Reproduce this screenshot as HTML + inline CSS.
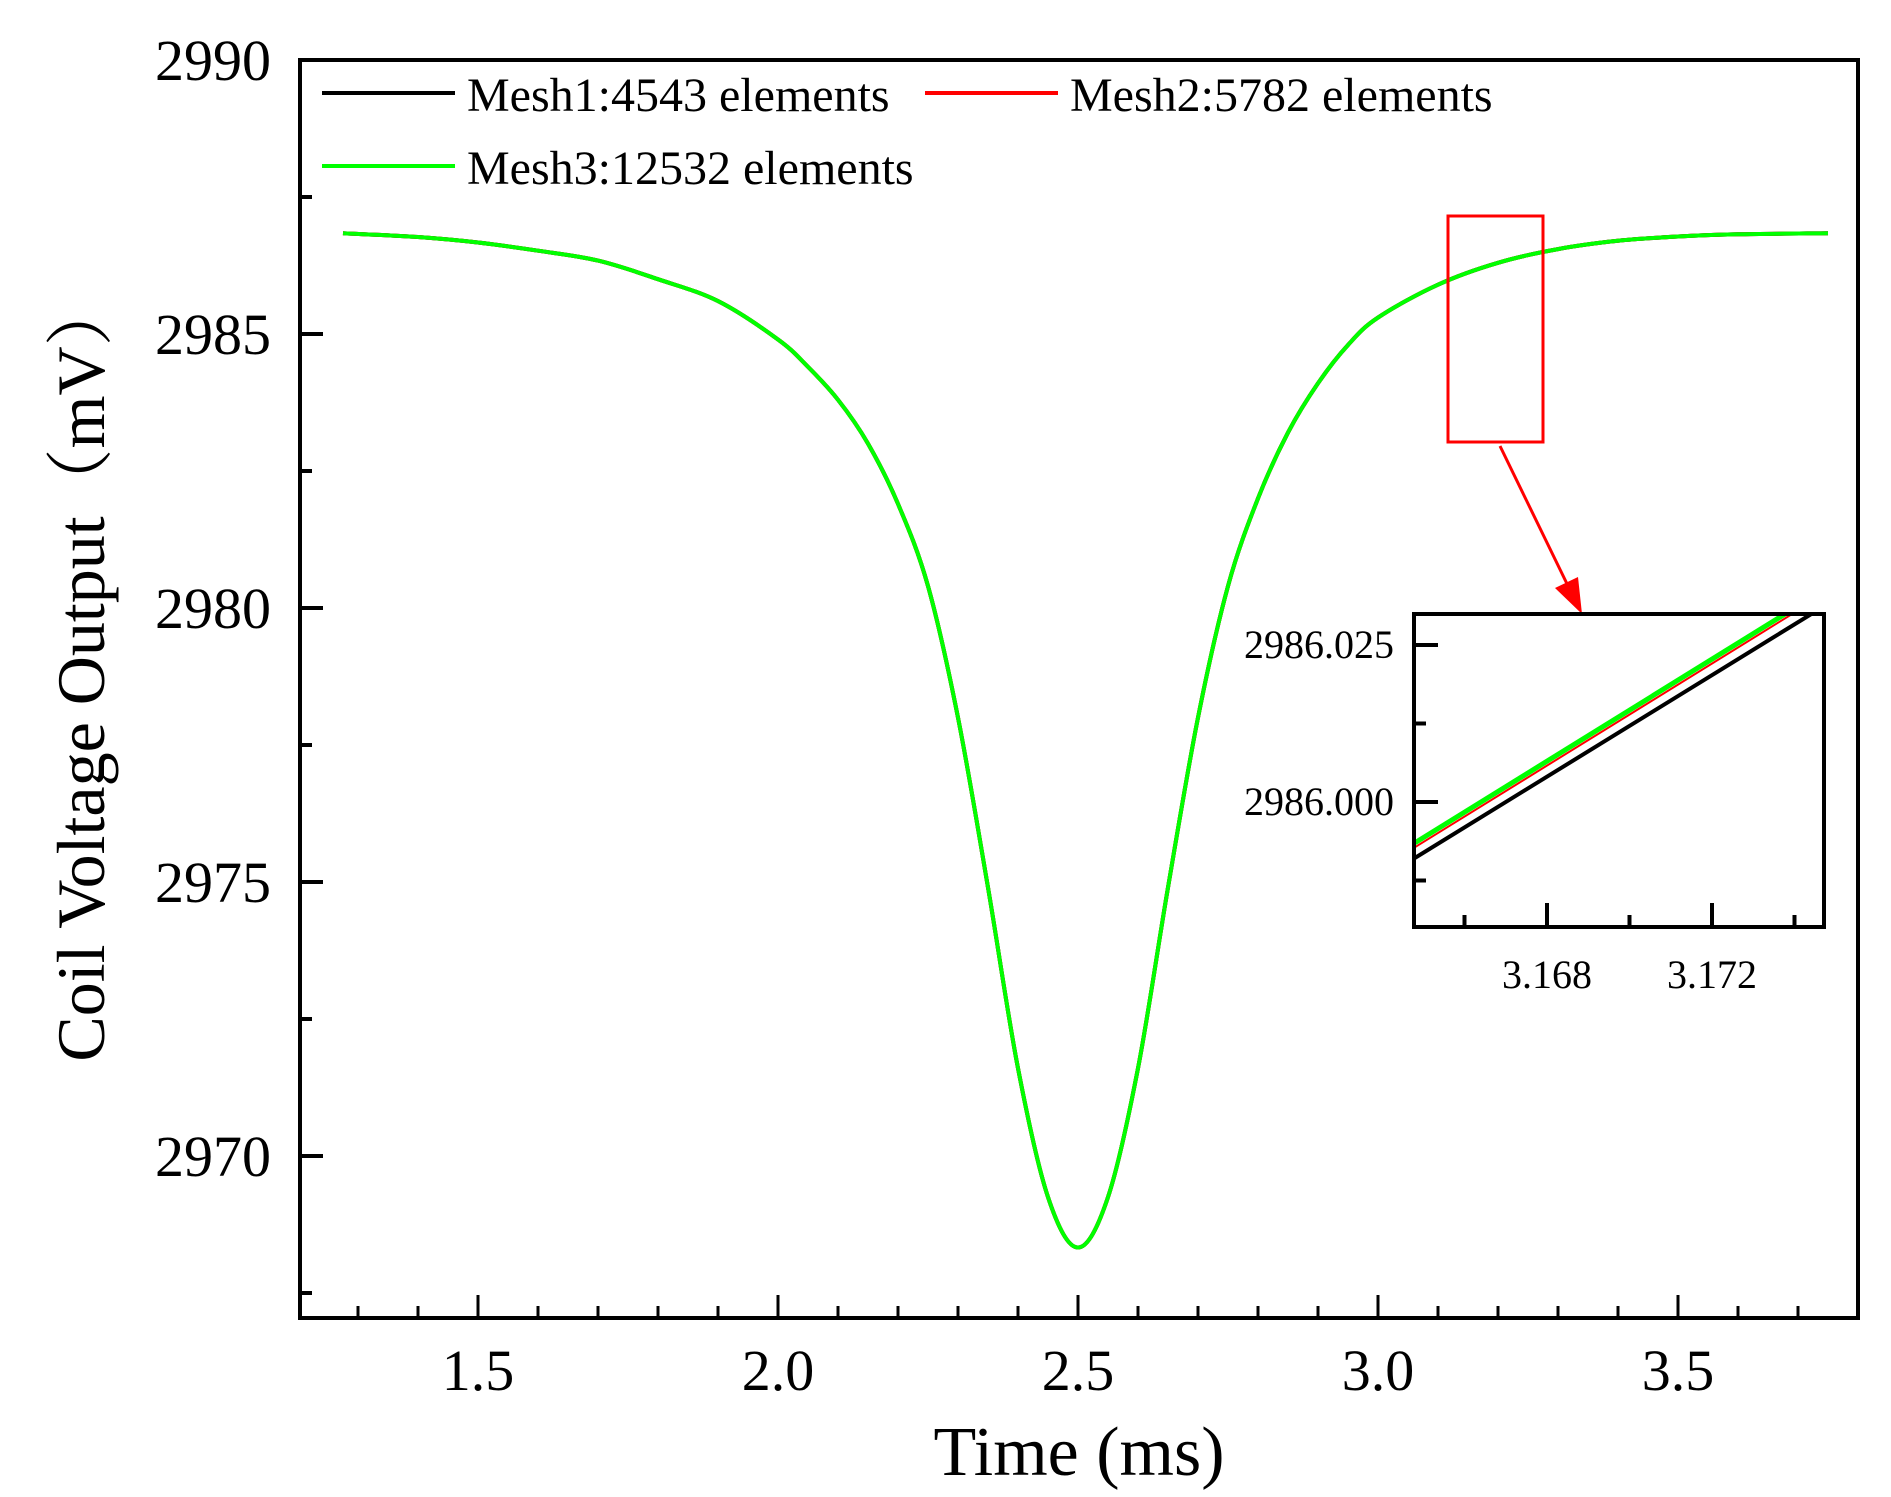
<!DOCTYPE html>
<html><head><meta charset="utf-8"><style>
html,body{margin:0;padding:0;background:#fff;}
svg{display:block;font-family:"Liberation Serif","Noto Serif CJK SC",serif;}
</style></head><body>
<svg id="chart" width="1891" height="1497" viewBox="0 0 1891 1497" xmlns="http://www.w3.org/2000/svg">
<g id="main"></g>
<g id="inset"></g>
</svg>
<script>
const times = [1.275,1.4,1.5,1.6,1.7,1.8,1.9,2.0,2.05,2.1,2.15,2.2,2.25,2.3,2.35,2.4,2.45,2.5,2.55,2.6,2.65,2.7,2.75,2.8,2.85,2.9,2.95,3.0,3.1,3.2,3.3,3.4,3.5,3.6,3.75];
const mesh1 = [2986.84,2986.77,2986.67,2986.52,2986.34,2986.0,2985.6,2984.9,2984.4,2983.8,2983.0,2981.9,2980.4,2978.0,2974.9,2971.6,2969.25,2968.33,2969.25,2971.6,2974.9,2978.0,2980.4,2982.0,2983.2,2984.1,2984.8,2985.3,2985.9,2986.3,2986.55,2986.7,2986.78,2986.82,2986.84];
const mesh2 = [2986.84,2986.77,2986.67,2986.52,2986.34,2986.0,2985.6,2984.9,2984.4,2983.8,2983.0,2981.9,2980.4,2978.0,2974.9,2971.6,2969.25,2968.33,2969.25,2971.6,2974.9,2978.0,2980.4,2982.0,2983.2,2984.1,2984.8,2985.3,2985.9,2986.3,2986.55,2986.7,2986.78,2986.82,2986.84];
const mesh3 = [2986.84,2986.77,2986.67,2986.52,2986.34,2986.0,2985.6,2984.9,2984.4,2983.8,2983.0,2981.9,2980.4,2978.0,2974.9,2971.6,2969.25,2968.33,2969.25,2971.6,2974.9,2978.0,2980.4,2982.0,2983.2,2984.1,2984.8,2985.3,2985.9,2986.3,2986.55,2986.7,2986.78,2986.82,2986.84];
const xTicks = [1.5,2.0,2.5,3.0,3.5];
const xTickLabels = ["1.5","2.0","2.5","3.0","3.5"];
const yTicks = [2970,2975,2980,2985,2990];
const yTickLabels = ["2970","2975","2980","2985","2990"];
const insetTimes = [3.1648,3.1745];
const insetMesh1 = [2985.9911,2986.0303];
const insetMesh2 = [2985.9928,2986.0322];
const insetMesh3 = [2985.9935,2986.0329];
const insetXTicks = [3.168,3.172];
const insetXTickLabels = ["3.168","3.172"];
const insetYTicks = [2986.000,2986.025];
const insetYTickLabels = ["2986.000","2986.025"];

const NS="http://www.w3.org/2000/svg";
function mk(parent,tag,attrs,text){const e=document.createElementNS(NS,tag);for(const k in attrs)e.setAttribute(k,attrs[k]);if(text!==undefined)e.textContent=text;parent.appendChild(e);return e;}
function smooth(pts){let d='M'+pts[0][0].toFixed(1)+','+pts[0][1].toFixed(1);
  for(let i=0;i<pts.length-1;i++){const p0=pts[Math.max(i-1,0)],p1=pts[i],p2=pts[i+1],p3=pts[Math.min(i+2,pts.length-1)];
    const c1=[p1[0]+(p2[0]-p0[0])/6,p1[1]+(p2[1]-p0[1])/6],c2=[p2[0]-(p3[0]-p1[0])/6,p2[1]-(p3[1]-p1[1])/6];
    d+=' C'+c1[0].toFixed(1)+','+c1[1].toFixed(1)+' '+c2[0].toFixed(1)+','+c2[1].toFixed(1)+' '+p2[0].toFixed(1)+','+p2[1].toFixed(1);}
  return d;}

const L=300,R=1858,T=60,B=1318;
const x=t=>478+(t-1.5)*600;
const y=v=>60+(2990-v)*54.8;
const main=document.getElementById('main');
const colors=["#000000","#ff0000","#00ff00"];
const series=[mesh1,mesh2,mesh3];
const names=["mesh1-line","mesh2-line","mesh3-line"];
series.forEach((s,i)=>{
  const p=mk(main,'path',{d:smooth(times.map((t,j)=>[x(t),y(s[j])])),fill:'none',stroke:colors[i],'stroke-width':4,'stroke-linejoin':'round'});
  
  
});
const fr=mk(main,'rect',{x:L,y:T,width:R-L,height:B-T,fill:'none',stroke:'#000','stroke-width':4});


for(let k=13;k<=37;k++){const t=k/10;const major=(k%5===0);
  const tk=mk(main,'line',{x1:x(t),x2:x(t),y1:B,y2:B-(major?23:12),stroke:'#000','stroke-width':3});
  
  }
xTicks.forEach((t,i)=>{const e=mk(main,'text',{x:x(t),y:1390,'font-size':58,'text-anchor':'middle'},xTickLabels[i]);
  
  });
for(let k=0;k<=9;k++){const v=2967.5+k*2.5;const major=(k%2===1);
  if(y(v)<T||y(v)>B)continue;
  const tk=mk(main,'line',{x1:L,x2:L+(major?23:12),y1:y(v),y2:y(v),stroke:'#000','stroke-width':4});
  
  }
yTicks.forEach((v,i)=>{const e=mk(main,'text',{x:271,y:y(v)+20,'font-size':58,'text-anchor':'end'},yTickLabels[i]);
  
  });
let e=mk(main,'text',{x:1079,y:1475,'font-size':70,'text-anchor':'middle'},'Time (ms)');


e=mk(main,'text',{x:0,y:0,'font-size':68,'text-anchor':'middle',transform:'translate(104,670) rotate(-90)'},'Coil Voltage Output（mV）');


const leg=[{x1:322,x2:455,ly:93,tx:467,ty:111,c:"#000",t:"Mesh1:4543 elements"},{x1:925,x2:1058,ly:93,tx:1070,ty:111,c:"#ff0000",t:"Mesh2:5782 elements"},{x1:322,x2:455,ly:166,tx:467,ty:184,c:"#00ff00",t:"Mesh3:12532 elements"}];
leg.forEach(l=>{const g=mk(main,'g',{});
  
  
  mk(g,'line',{x1:l.x1,x2:l.x2,y1:l.ly,y2:l.ly,stroke:l.c,'stroke-width':4});
  mk(g,'text',{x:l.tx,y:l.ty,'font-size':48},l.t);});
e=mk(main,'rect',{x:1448,y:216,width:95,height:226,fill:'none',stroke:'#ff0000','stroke-width':3});


e=mk(main,'line',{x1:1500,y1:446,x2:1570,y2:590,stroke:'#ff0000','stroke-width':3});


e=mk(main,'polygon',{points:'1582,614 1555,588 1578,577',fill:'#ff0000'});



const IL=1414,IR=1824,IT=614,IB=927;
const ix=t=>1547+(t-3.168)*41250;
const iy=v=>802-(v-2986.0)*6280;
const inset=document.getElementById('inset');
mk(inset,'rect',{x:IL,y:IT,width:IR-IL,height:IB-IT,fill:'#fff'});
const defs=mk(inset,'defs',{});
const cp=mk(defs,'clipPath',{id:'iclip'});
mk(cp,'rect',{x:IL,y:IT,width:IR-IL,height:IB-IT});
[insetMesh1,insetMesh2,insetMesh3].forEach((s,i)=>{
  const p=mk(inset,'polyline',{points:insetTimes.map((t,j)=>ix(t).toFixed(1)+','+iy(s[j]).toFixed(1)).join(' '),fill:'none',stroke:colors[i],'stroke-width':i===1?2:(i===2?5:4),'clip-path':'url(#iclip)'});
  
  
});
e=mk(inset,'rect',{x:IL,y:IT,width:IR-IL,height:IB-IT,fill:'none',stroke:'#000','stroke-width':4});


[3.166,3.168,3.170,3.172,3.174].forEach((t,k)=>{const major=(k%2===1);
  const tk=mk(inset,'line',{x1:ix(t),x2:ix(t),y1:IB,y2:IB-(major?24:12),stroke:'#000','stroke-width':4});
  
  });
[2985.9875,2986.0,2986.0125,2986.025].forEach((v,k)=>{const major=(k%2===1);
  const tk=mk(inset,'line',{x1:IL,x2:IL+(major?24:12),y1:iy(v),y2:iy(v),stroke:'#000','stroke-width':4});
  
  });
insetXTicks.forEach((t,i)=>{const e=mk(inset,'text',{x:ix(t),y:988,'font-size':40,'text-anchor':'middle'},insetXTickLabels[i]);
  
  });
insetYTicks.forEach((v,i)=>{const e=mk(inset,'text',{x:1394,y:iy(v)+13,'font-size':40,'text-anchor':'end'},insetYTickLabels[i]);
  
  });
</script>
</body></html>
